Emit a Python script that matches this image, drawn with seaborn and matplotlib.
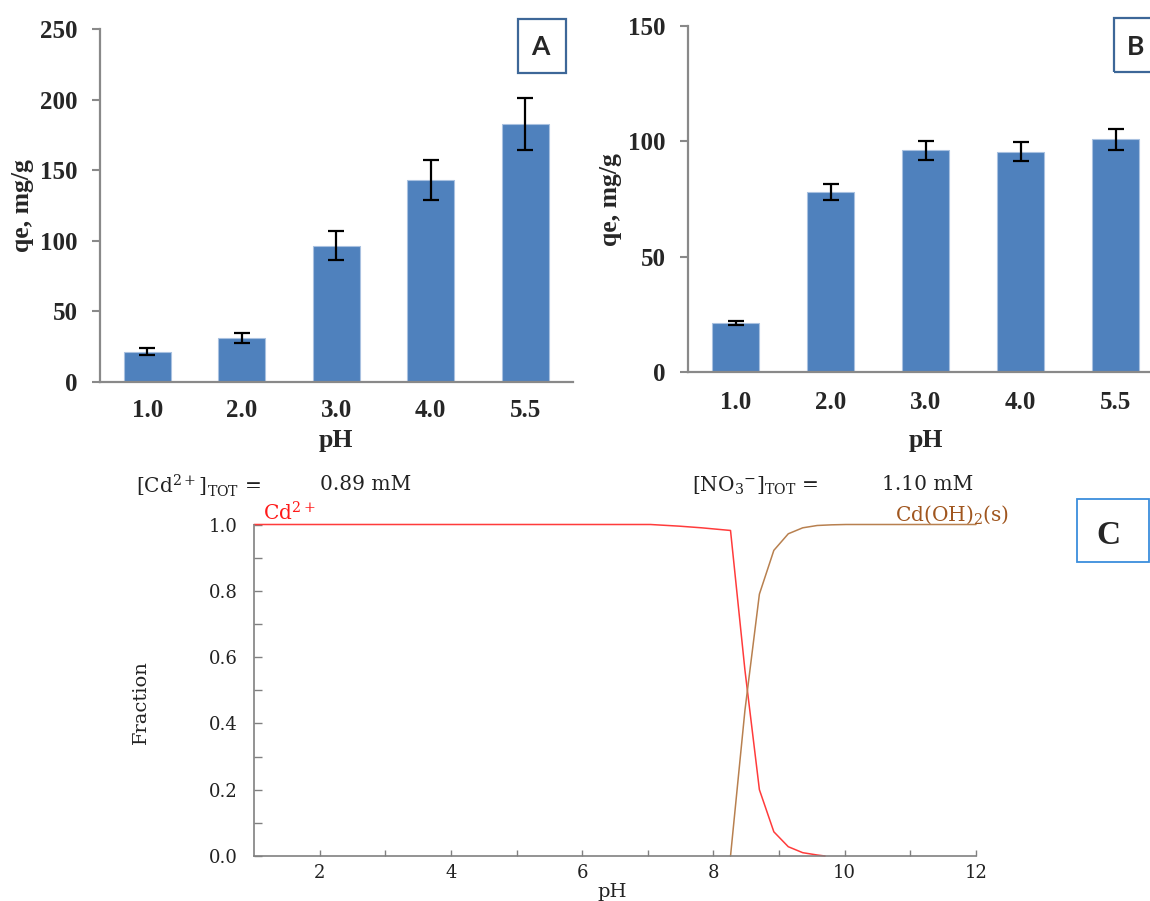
import numpy as np
import matplotlib
matplotlib.use("Agg")
import matplotlib.pyplot as plt
from matplotlib.patches import Rectangle
import seaborn as sns

# ---------------- data ----------------
ph_cats = ['1.0', '2.0', '3.0', '4.0', '5.5']

qe_a = [21.3, 31.0, 96.5, 142.8, 182.7]
err_a = [2.4, 3.4, 10.0, 14.3, 18.3]

qe_b = [21.5, 78.0, 96.1, 95.5, 100.9]
err_b = [0.9, 3.4, 4.2, 4.1, 4.4]

# speciation diagram
cd_ph = [1.0, 7.04, 7.48, 7.82, 8.26, 8.48, 8.70, 8.92, 9.14, 9.36, 9.58, 9.70]
cd_frac = [1.0, 1.0, 0.995, 0.990, 0.982, 0.56, 0.20, 0.073, 0.028, 0.010, 0.003, 0.0]

cdoh_ph = [8.26, 8.48, 8.70, 8.92, 9.14, 9.36, 9.58, 9.80, 10.02, 12.0]
cdoh_frac = [0.0, 0.44, 0.79, 0.922, 0.972, 0.990, 0.997, 0.999, 1.0, 1.0]

# ---------------- style ----------------
sns.set_style('white')
plt.rcParams['font.family'] = ['Liberation Serif', 'DejaVu Serif']
plt.rcParams['mathtext.fontset'] = 'dejavuserif'

W, H = 1150, 901
fig = plt.figure(figsize=(W / 100, H / 100), dpi=100)


def ax_rect(left, top, right, bottom):
    # pixel box -> figure fraction
    return [left / W, 1 - bottom / H, (right - left) / W, (bottom - top) / H]


def fxy(x, y):
    return x / W, 1 - y / H


bar_blue = '#4f81bd'
axis_grey = '#898989'


def bar_panel(ax, values, errs, ymax, ylabel_x, ylabel_y, pad_x):
    sns.barplot(x=ph_cats, y=values, color=bar_blue, width=0.5, saturation=1,
                errorbar=None, edgecolor='#a9c1e0', linewidth=0.8, ax=ax)
    ax.errorbar(range(len(values)), values, yerr=errs, fmt='none', ecolor='black',
                elinewidth=1.6, capsize=5.5, capthick=1.6)
    ax.set_xlim(-0.5, 4.5)
    ax.set_ylim(0, ymax)
    ax.set_yticks(range(0, ymax + 1, 50))
    ax.set_xlabel('')
    ax.set_ylabel('')
    for s in ['top', 'right']:
        ax.spines[s].set_visible(False)
    for s in ['left', 'bottom']:
        ax.spines[s].set_color(axis_grey)
        ax.spines[s].set_linewidth(1.6)
    ax.tick_params(axis='y', direction='out', length=6, width=1.5, color=axis_grey,
                   labelsize=18, pad=10, left=True)
    ax.tick_params(axis='x', length=0, labelsize=18, pad=pad_x)
    for lab in ax.get_xticklabels() + ax.get_yticklabels():
        lab.set_fontweight('bold')
    fig.text(*fxy(ylabel_x, ylabel_y), 'qe, mg/g', rotation=90, ha='center', va='center',
             fontsize=18.5, fontweight='bold')


# ===================== PANEL A =====================
ax_a = fig.add_axes(ax_rect(100, 29, 572.5, 381.7))
bar_panel(ax_a, qe_a, err_a, 250, 23, 206, 12.5)
fig.text(*fxy(336, 440), 'pH', ha='center', va='center', fontsize=18.5, fontweight='bold')

# ===================== PANEL B =====================
ax_b = fig.add_axes(ax_rect(688, 26, 1163, 372.3))
bar_panel(ax_b, qe_b, err_b, 150, 611, 200, 13.5)
fig.text(*fxy(926, 440), 'pH', ha='center', va='center', fontsize=18.5, fontweight='bold')

# panel letter boxes
fig.patches.append(Rectangle(fxy(518, 73), 48 / W, 54 / H, transform=fig.transFigure,
                             fill=False, edgecolor='#3d6798', lw=1.6))
fig.text(*fxy(540, 47), 'A', ha='center', va='center', fontsize=19, fontweight='bold',
         family=['Lato', 'DejaVu Sans'])
fig.patches.append(Rectangle(fxy(1114, 72), 48 / W, 54 / H, transform=fig.transFigure,
                             fill=False, edgecolor='#3d6798', lw=1.6))
fig.text(*fxy(1136, 47), 'B', ha='center', va='center', fontsize=19, fontweight='bold',
         family=['Lato', 'DejaVu Sans'])

# ===================== PANEL C =====================
serif = ['DejaVu Serif']
txt_c = '#222222'
ax_c = fig.add_axes(ax_rect(254, 524.5, 976, 856))
sns.lineplot(x=cd_ph, y=cd_frac, ax=ax_c, color='#ff3b3b', lw=1.1)
sns.lineplot(x=cdoh_ph, y=cdoh_frac, ax=ax_c, color='#b8804f', lw=1.1)
for ln in ax_c.get_lines():
    ln.set_clip_on(False)

ax_c.set_xlim(1, 12)
ax_c.set_ylim(0, 1.0)
ax_c.set_xticks(range(2, 13))
ax_c.set_xticklabels([str(v) if v % 2 == 0 else '' for v in range(2, 13)])
yt = np.round(np.arange(0, 1.01, 0.1), 1)
ax_c.set_yticks(yt)
ax_c.set_yticklabels([f'{v:.1f}' if round(v * 10) % 2 == 0 else '' for v in yt])
ax_c.set_xlabel('')
ax_c.set_ylabel('')
for s in ['top', 'right']:
    ax_c.spines[s].set_visible(False)
for s in ['left', 'bottom']:
    ax_c.spines[s].set_color('#808080')
    ax_c.spines[s].set_linewidth(1.2)
ax_c.tick_params(axis='both', direction='in', color='#808080', width=1.0,
                 labelsize=13, labelcolor=txt_c, left=True, bottom=True)
ax_c.tick_params(axis='y', length=6, pad=12)
ax_c.tick_params(axis='x', length=4, pad=6)
for lab in ax_c.get_xticklabels() + ax_c.get_yticklabels():
    lab.set_family(serif)

fig.text(*fxy(612, 892), 'pH', ha='center', va='center', fontsize=14, color=txt_c, family=serif)
fig.text(*fxy(141, 702), 'Fraction', rotation=90, ha='center', va='center', fontsize=14,
         color=txt_c, family=serif)

# totals header
fig.text(*fxy(136, 486), r'[Cd$^{2+}$]$_{\mathrm{TOT}}$ =', ha='left', va='center',
         fontsize=14.5, color=txt_c, family=serif)
fig.text(*fxy(320, 485), '0.89 mM', ha='left', va='center', fontsize=14.5, color=txt_c,
         family=serif)
fig.text(*fxy(692, 486), r'[NO$_3$$^{-}$]$_{\mathrm{TOT}}$ =', ha='left', va='center',
         fontsize=14.5, color=txt_c, family=serif)
fig.text(*fxy(882, 485), '1.10 mM', ha='left', va='center', fontsize=14.5, color=txt_c,
         family=serif)

# species labels
ax_c.text(1.14, 1.035, r'Cd$^{2+}$', color='#ff1a1a', fontsize=14.5, ha='left', va='center',
          family=serif)
ax_c.text(10.77, 1.03, r'Cd(OH)$_2$(s)', color='#a0561f', fontsize=14.5, ha='left',
          va='center', family=serif)

fig.patches.append(Rectangle(fxy(1077, 562), 72 / W, 63 / H, transform=fig.transFigure,
                             fill=False, edgecolor='#3a8ddc', lw=1.3))
fig.text(*fxy(1108, 535), 'C', ha='center', va='center', fontsize=24, fontweight='bold')

fig.savefig('out.png', dpi=100)
